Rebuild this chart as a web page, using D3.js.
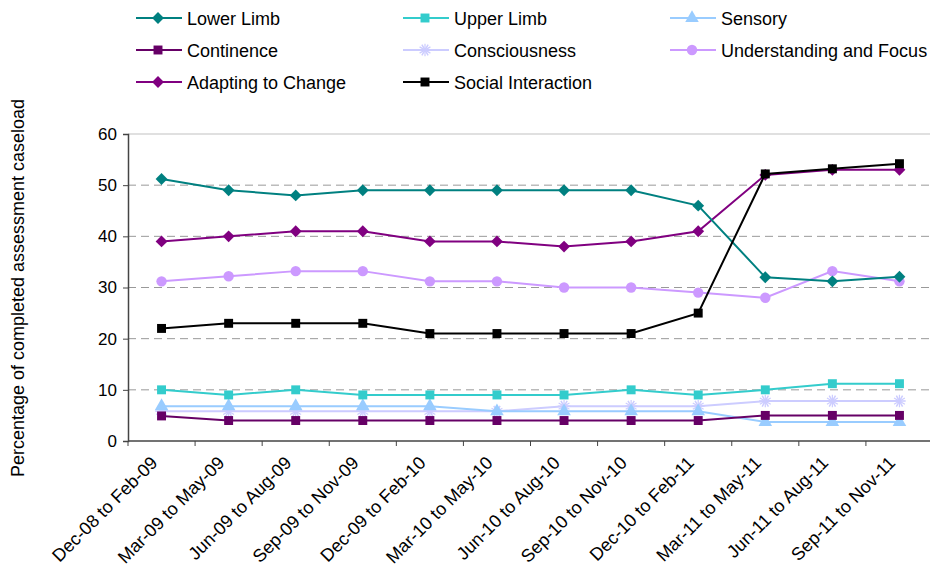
<!DOCTYPE html>
<html><head><meta charset="utf-8">
<script src="https://cdn.jsdelivr.net/npm/d3@7"></script>
<style>
body{margin:0;background:#fff;}
svg{font-family:"Liberation Sans",Arial,sans-serif;}
</style></head>
<body><svg id="c" width="930" height="572"></svg>
<script>
const categories = ["Dec-08 to Feb-09","Mar-09 to May-09","Jun-09 to Aug-09","Sep-09 to Nov-09","Dec-09 to Feb-10","Mar-10 to May-10","Jun-10 to Aug-10","Sep-10 to Nov-10","Dec-10 to Feb-11","Mar-11 to May-11","Jun-11 to Aug-11","Sep-11 to Nov-11"];
const lowerLimb     = [51.2,49,48,49,49,49,49,49,46,32,31.2,32.1];
const upperLimb     = [10,9,10,9,9,9,9,10,9,10,11.2,11.2];
const sensory       = [6.8,6.8,6.8,6.8,6.8,5.8,5.8,5.8,5.8,3.7,3.7,3.7];
const continence    = [4.9,4,4,4,4,4,4,4,4,5,5,5];
const consciousness = [5.8,5.8,5.8,5.8,5.8,5.8,6.8,6.8,6.8,7.8,7.8,7.8];
const understanding = [31.2,32.2,33.2,33.2,31.2,31.2,30,30,29,28,33.2,31.2];
const adapting      = [39,40,41,41,39,39,38,39,41,52,53,53];
const social        = [22,23,23,23,21,21,21,21,25,52.2,53.2,54.2];
const yTicks = [0,10,20,30,40,50,60];
const yLabel = "Percentage of completed assessment caseload";

const series = [
  {name:"Lower Limb", values:lowerLimb, color:"#008080", sym:"diamond"},
  {name:"Upper Limb", values:upperLimb, color:"#33CCCC", sym:"square"},
  {name:"Sensory", values:sensory, color:"#99CCFF", sym:"triangle"},
  {name:"Continence", values:continence, color:"#660066", sym:"square"},
  {name:"Consciousness", values:consciousness, color:"#CCCCFF", sym:"star"},
  {name:"Understanding and Focus", values:understanding, color:"#CC99FF", sym:"circle"},
  {name:"Adapting to Change", values:adapting, color:"#800080", sym:"diamond"},
  {name:"Social Interaction", values:social, color:"#000000", sym:"square"}
];

const svg = d3.select("#c");
const x0 = 128, x1 = 933, yTop = 134, yBot = 441;
const xBand = d3.scaleBand().domain(categories).range([x0,x1]);
const x = d => xBand(d) + xBand.bandwidth()/2;
const y = d3.scaleLinear().domain([0,60]).range([yBot,yTop]);

// gridlines
svg.append("g").selectAll("line").data(yTicks.filter(t=>t>0)).join("line")
  .attr("x1",x0).attr("x2",930).attr("y1",d=>y(d)).attr("y2",d=>y(d))
  .attr("stroke","#999").attr("stroke-width",1)
  .attr("stroke-dasharray",d=>d===60?null:"8,5")
  .attr("opacity",d=>d===60?0.6:1);

// y axis
const yAxis = svg.append("g").attr("transform",`translate(${x0},0)`)
  .call(d3.axisLeft(y).tickValues(yTicks).tickSize(5).tickPadding(6));
yAxis.select(".domain").attr("stroke","#444").attr("stroke-width",1.5);
yAxis.selectAll(".tick line").attr("stroke","#444");
yAxis.selectAll("text").attr("font-size","17px").attr("fill","#000").attr("font-family","Liberation Sans, Arial");

// x axis
const xg = svg.append("g").attr("transform",`translate(0,${yBot})`);
xg.append("line").attr("x1",x0).attr("x2",930).attr("stroke","#444").attr("stroke-width",1.5);
xg.selectAll("line.t").data(categories).join("line").attr("class","t")
  .attr("x1",d=>xBand(d)).attr("x2",d=>xBand(d)).attr("y1",0).attr("y2",5).attr("stroke","#444");
xg.selectAll("text").data(categories).join("text")
  .attr("transform",d=>`translate(${x(d)-3},${23}) rotate(-45)`)
  .attr("text-anchor","end").attr("font-size","18px").attr("fill","#000")
  .text(d=>d);

// y label
svg.append("text").attr("transform","translate(24,288) rotate(-90)")
  .attr("text-anchor","middle").attr("font-size","18px").text(yLabel);

const sizes = {diamond:70, square:80, triangle:80, circle:85, star:110};
function drawMarker(g, s, cx, cy){
  if(s.sym==="star"){
    g.append("path").attr("d",d3.symbol().type(d3.symbolAsterisk).size(sizes.star)()).attr("transform",`translate(${cx},${cy}) rotate(30)`)
      .attr("stroke",s.color).attr("stroke-width",1.5).attr("fill","none");
    g.append("path").attr("d",d3.symbol().type(d3.symbolAsterisk).size(sizes.star)()).attr("transform",`translate(${cx},${cy})`)
      .attr("stroke",s.color).attr("stroke-width",1.2).attr("fill","none");
  } else if(s.sym==="diamond"){
    g.append("path").attr("d",d3.symbol().type(d3.symbolSquare).size(sizes.diamond)()).attr("transform",`translate(${cx},${cy}) rotate(45)`)
      .attr("fill",s.color);
  } else {
    const map = {square:d3.symbolSquare, triangle:d3.symbolTriangle, circle:d3.symbolCircle};
    g.append("path").attr("d",d3.symbol().type(map[s.sym]).size(sizes[s.sym])()).attr("transform",`translate(${cx},${cy})`)
      .attr("fill",s.color);
  }
}

const line = d3.line().x((d,i)=>x(categories[i])).y(d=>y(d));
const drawOrder = [4,2,3,1,5,6,0,7];
drawOrder.forEach(idx=>{
  const s = series[idx];
  const g = svg.append("g");
  g.append("path").datum(s.values).attr("d",line).attr("fill","none").attr("stroke",s.color).attr("stroke-width",2);
  s.values.forEach((v,i)=>drawMarker(g,s,x(categories[i]),y(v)));
});

// legend
const legCols = [136, 403, 670], legRows = [18,50,82];
series.forEach((s,i)=>{
  const cx = legCols[i%3], cy = legRows[Math.floor(i/3)];
  const g = svg.append("g");
  g.append("line").attr("x1",cx).attr("x2",cx+46).attr("y1",cy).attr("y2",cy).attr("stroke",s.color).attr("stroke-width",2);
  drawMarker(g,s,cx+22,cy);
  g.append("text").attr("x",cx+51).attr("y",cy+6.5).attr("font-size","18px").text(s.name);
});
</script></body></html>
